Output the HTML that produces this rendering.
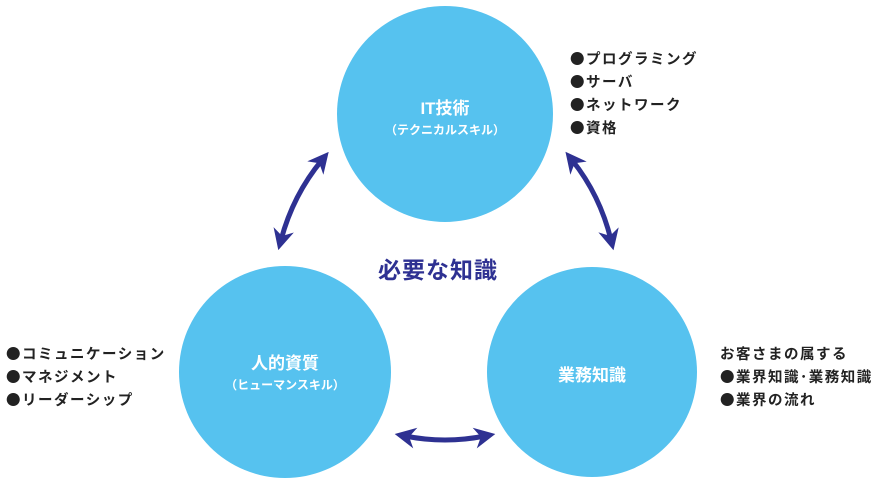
<!DOCTYPE html>
<html><head><meta charset="utf-8"><style>
body{margin:0;background:#fff;width:880px;height:490px;overflow:hidden;font-family:"Liberation Sans","Noto Sans CJK JP",sans-serif}
.t{position:absolute;font-family:"Noto Sans CJK JP",sans-serif;font-size:14.5px;letter-spacing:1.5px;font-weight:bold;color:#222;line-height:23px;white-space:nowrap}
.c{position:absolute;color:#fff;font-weight:bold;text-align:center;white-space:nowrap}
</style></head><body>
<svg width="880" height="490" style="position:absolute;left:0;top:0">
<defs><marker id="a" viewBox="0 0 10 10" refX="5" refY="5" markerWidth="4.2" markerHeight="4.2" orient="auto-start-reverse"><path d="M0,0L10,5L0,10L3,5Z" fill="#2e3192"/></marker></defs>
<circle cx="445" cy="114" r="108" fill="#56c2ef"/>
<circle cx="285" cy="372" r="106" fill="#56c2ef"/>
<circle cx="592" cy="372" r="105" fill="#56c2ef"/>
<g stroke="#2e3192" stroke-width="5" fill="none">
<path d="M322,160 Q293,195 281,240" marker-start="url(#a)" marker-end="url(#a)"/>
<path d="M572,160 Q600,195 611,240" marker-start="url(#a)" marker-end="url(#a)"/>
<path d="M405,436 Q445,444 485,436" marker-start="url(#a)" marker-end="url(#a)"/>
</g>
</svg>
<div class="c" style="left:345px;top:94px;width:200px;font-size:17px">IT技術</div>
<div class="c" style="left:345px;top:121px;width:200px;font-size:12px">（テクニカルスキル）</div>
<div class="c" style="left:185px;top:349px;width:200px;font-size:17px">人的資質</div>
<div class="c" style="left:185px;top:376px;width:200px;font-size:12px">（ヒューマンスキル）</div>
<div class="c" style="left:492px;top:361px;width:200px;font-size:17px">業務知識</div>
<div class="t" style="left:378px;top:252px;font-size:23px;letter-spacing:1px;color:#2e3192;line-height:32px">必要な知識</div>
<div class="t" style="left:570px;top:47px">●プログラミング<br>●サーバ<br>●ネットワーク<br>●資格</div>
<div class="t" style="left:6px;top:342px">●コミュニケーション<br>●マネジメント<br>●リーダーシップ</div>
<div class="t" style="left:720px;top:342px">お客さまの属する<br>●業界知識･業務知識<br>●業界の流れ</div>
</body></html>
